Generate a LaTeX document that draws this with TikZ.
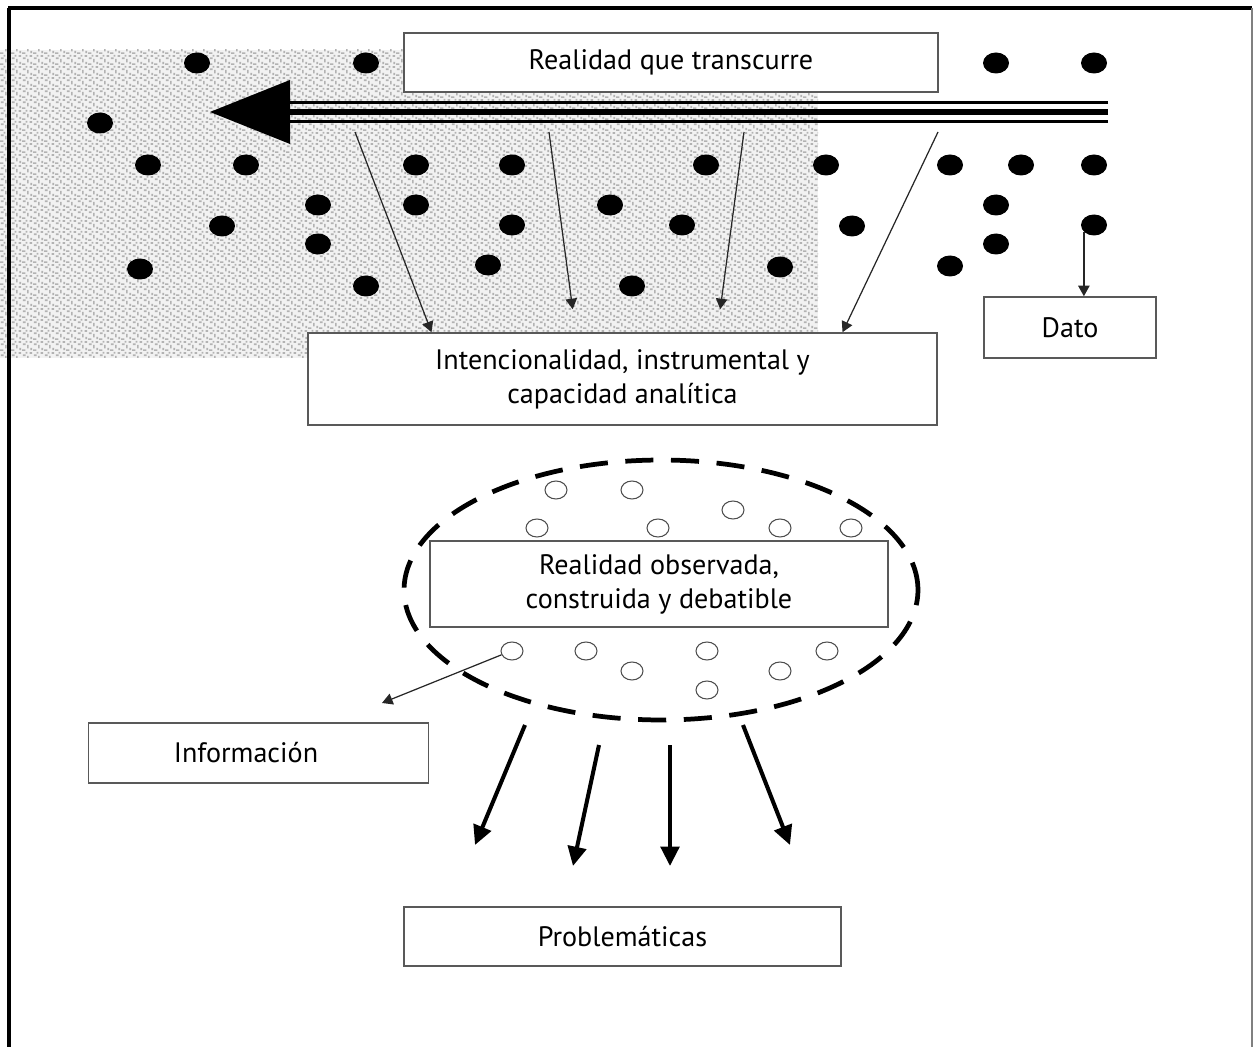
\documentclass[tikz,border=0pt]{standalone}
\usepackage{fontspec}
\setmainfont{PT Sans}
\usetikzlibrary{arrows.meta,calc,patterns,shapes.geometric}

% mottled grey fill for the part of the flow already gone by
\pgfdeclarepatternformonly{mottle}{\pgfpointorigin}{\pgfpoint{6pt}{6pt}}{\pgfpoint{6pt}{6pt}}{
  \pgfpathrectangle{\pgfpoint{0pt}{0pt}}{\pgfpoint{2pt}{1pt}}
  \pgfpathrectangle{\pgfpoint{3pt}{1.5pt}}{\pgfpoint{1pt}{2.2pt}}
  \pgfpathrectangle{\pgfpoint{0.5pt}{3.5pt}}{\pgfpoint{1.6pt}{1pt}}
  \pgfpathrectangle{\pgfpoint{4.5pt}{4.8pt}}{\pgfpoint{1.5pt}{1pt}}
  \pgfpathrectangle{\pgfpoint{5pt}{0.5pt}}{\pgfpoint{1pt}{1.4pt}}
  \pgfpathrectangle{\pgfpoint{2.2pt}{5pt}}{\pgfpoint{1pt}{1pt}}
  \pgfusepath{fill}
}

\begin{document}
\begin{tikzpicture}[
    x=0.02cm, y=-0.02cm,
    box/.style={rectangle, draw=black!65, line width=0.9pt, fill=white, align=center,
                font=\fontsize{16}{19.3}\selectfont, inner sep=0pt},
    dot/.style={ellipse, fill=black, inner sep=0pt, minimum width=0.52cm, minimum height=0.42cm},
    ring/.style={ellipse, draw=black!70, line width=0.6pt, inner sep=0pt,
                 minimum width=0.44cm, minimum height=0.36cm},
    cloudline/.style={ellipse, draw=black, line width=2.7pt, inner sep=0pt,
                      dash pattern=on 16pt off 10pt},
    thinarrow/.style={draw=black!85, line width=0.7pt, -{Triangle[length=6pt,width=6.5pt]}},
    boldarrow/.style={line width=2.3pt, -{Triangle[length=11pt,width=10.5pt]}}
  ]
  \useasboundingbox (0,0) rectangle (1255,1047);

  % shaded part of the flow
  \fill[gray!10] (0,50) rectangle (818,358);
  \fill[pattern=mottle, pattern color=gray!60] (0,50) rectangle (818,358);

  % frame
  \draw[line width=1.8pt] (9,1047) -- (9,8);
  \draw[line width=2.3pt] (8,8) -- (1252,8);
  \draw[gray, line width=1pt] (1252,8) -- (1252,1047);

  % facts of the reality
  \foreach \x/\y [count=\i] in {197/63, 366/63, 996/63, 1094/63, 100/123,
      148/165, 246/165, 416/165, 512/165, 706/165, 826/165, 950/165, 1021/165, 1094/165,
      318/205, 416/205, 610/205, 996/205, 222/226, 512/225, 682/225, 852/226,
      318/244, 996/244, 140/269, 488/265, 780/267, 950/266, 366/286, 632/286}
    \node[dot] (d\i) at (\x,\y) {};
  \node[dot] (datodot) at (1094,225) {};

  % time flow
  \coordinate (flowtail) at (1108,112);
  \coordinate (flowhead) at (290,112);
  \draw[line width=1.6pt] ([yshift=0.19cm]flowtail) -- ([yshift=0.19cm]flowhead);
  \draw[line width=3.2pt] (flowtail) -- (flowhead);
  \draw[line width=1.6pt] ([yshift=-0.19cm]flowtail) -- ([yshift=-0.19cm]flowhead);
  \fill (flowhead) -- ++(0,-32) -- ++(-80,32) -- ++(80,32) -- cycle;

  \node[box, minimum width=10.68cm, minimum height=1.18cm] (realidad) at (671,62.5)
    {Realidad que transcurre};
  \node[box, minimum width=12.58cm, minimum height=1.84cm] (intencion) at (622.5,379)
    {Intencionalidad, instrumental y\\ capacidad analítica};
  \node[box, minimum width=3.44cm, minimum height=1.22cm] (dato) at (1070,327.5) {Dato};

  \coordinate (f1) at (355,132);
  \coordinate (f2) at (549,132);
  \coordinate (f3) at (744,132);
  \coordinate (f4) at (938,132);
  \draw[thinarrow] (f1) -- ($(intencion.north west)!0.197!(intencion.north east)$);
  \draw[thinarrow] (f2) -- ($(intencion.north west)!0.421!(intencion.north east)+(0,-23)$);
  \draw[thinarrow] (f3) -- ($(intencion.north west)!0.655!(intencion.north east)+(0,-23)$);
  \draw[thinarrow] (f4) -- ($(intencion.north west)!0.849!(intencion.north east)$);
  \draw[thinarrow] (datodot.215) -- (datodot.215 |- dato.north);

  % observed reality
  \node[cloudline, minimum width=10.28cm, minimum height=5.2cm] (cloud) at (661,590) {};
  \foreach \x/\y [count=\i] in {556/490, 632/490, 733/510, 537/528, 658/528, 780/528,
      851/528, 586/651, 707/651, 827/651, 632/671, 780/671, 707/690}
    \node[ring] (r\i) at (\x,\y) {};
  \node[ring] (infring) at (512,651) {};
  \node[box, minimum width=9.16cm, minimum height=1.72cm] (observada) at (659,584)
    {Realidad observada,\\ construida y debatible};

  \node[box, minimum width=6.8cm, minimum height=1.2cm] (info) at (258.5,753)
    {\hspace*{-0.5cm}Información};
  \coordinate (infoend) at (382,703);
  \draw[thinarrow] (infring.200) -- (infoend);

  \node[box, minimum width=8.74cm, minimum height=1.18cm] (problemas) at (622.5,936.5)
    {Problemáticas};
  \coordinate (p1s) at (525,725);
  \coordinate (p1e) at (475,845);
  \coordinate (p2s) at (599,745);
  \coordinate (p2e) at (573,866);
  \coordinate (p3s) at (670,745);
  \coordinate (p3e) at (670,866);
  \coordinate (p4s) at (743,725);
  \coordinate (p4e) at (790,845);
  \draw[boldarrow] (p1s) -- (p1e);
  \draw[boldarrow] (p2s) -- (p2e);
  \draw[boldarrow] (p3s) -- (p3e);
  \draw[boldarrow] (p4s) -- (p4e);
\end{tikzpicture}
\end{document}
